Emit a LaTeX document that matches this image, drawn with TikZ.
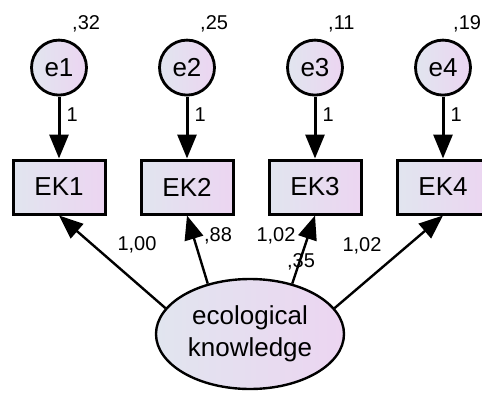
\documentclass[tikz,border=0pt]{standalone}
\usepackage{fontspec}
\setmainfont{Liberation Sans}
\usetikzlibrary{positioning}
\usetikzlibrary{arrows.meta}
\usetikzlibrary{shapes.geometric}
\definecolor{fillLeft}{HTML}{E1E5EF}
\definecolor{fillRight}{HTML}{ECD5F1}

\begin{document}
\begin{tikzpicture}[x=1pt, y=1pt, node distance=33pt,
    observed/.style={draw, line width=3pt, rectangle, minimum width=92pt, minimum height=54pt, left color=fillLeft, right color=fillRight, font=\fontsize{26}{31}\selectfont},
    errorTerm/.style={draw, line width=2.8pt, circle, minimum size=55pt, inner sep=0pt, left color=fillLeft, right color=fillRight, font=\fontsize{26}{31}\selectfont},
    latent/.style={draw, line width=2.4pt, ellipse, minimum width=188pt, minimum height=110pt, inner sep=0pt, align=center, left color=fillLeft, right color=fillRight, font=\fontsize{26}{32}\selectfont},
    estimate/.style={inner sep=1pt, font=\fontsize{20}{24}\selectfont},
    regArrow/.style={line width=3pt, -{Triangle[length=24pt, width=19pt]}},
  ]
    \useasboundingbox (0,0) rectangle (482,392);
    \clip (0,0) rectangle (482,392);

    \node[observed] at (59,205) (EK1) {EK1};
    \node[observed, right=of EK1] (EK2) {EK2};
    \node[observed, right=of EK2] (EK3) {EK3};
    \node[observed, right=of EK3] (EK4) {EK4};

    \node[errorTerm, above=62pt of EK1] (e1) {e1};
    \node[errorTerm, above=62pt of EK2] (e2) {e2};
    \node[errorTerm, above=62pt of EK3] (e3) {e3};
    \node[errorTerm, above=62pt of EK4] (e4) {e4};

    \node[latent] at (250,58) (know) {ecological\\knowledge};

    % variances
    \node[estimate, anchor=west] at ([xshift=12pt, yshift=44pt]e1.center) (var_1) {,32};
    \node[estimate, anchor=west] at ([xshift=12pt, yshift=44pt]e2.center) (var_2) {,25};
    \node[estimate, anchor=west] at ([xshift=12pt, yshift=44pt]e3.center) (var_3) {,11};
    \node[estimate, anchor=west] at ([xshift=9pt, yshift=44pt]e4.center) (var_4) {,19};
    \node[estimate] at (301,130) (var_know) {,35};

    \draw[regArrow] (e1) -- node[estimate, anchor=west, pos=.3, xshift=5pt] {1} (EK1);
    \draw[regArrow] (e2) -- node[estimate, anchor=west, pos=.3, xshift=5pt] {1} (EK2);
    \draw[regArrow] (e3) -- node[estimate, anchor=west, pos=.3, xshift=5pt] {1} (EK3);
    \draw[regArrow] (e4) -- node[estimate, anchor=west, pos=.3, xshift=5pt] {1} (EK4);

    \draw[regArrow, line width=2.4pt] (know.163) -- (EK1.south);
    \draw[regArrow, line width=2.4pt] (know.130) -- (EK2.south);
    \draw[regArrow, line width=2.4pt] (know.50) -- (EK3.south);
    \draw[regArrow, line width=2.4pt] (know.17) -- (EK4.south);

    \node[estimate] at (137,147) (load_1) {1,00};
    \node[estimate] at (218,156) (load_2) {,88};
    \node[estimate] at (276,156) (load_3) {1,02};
    \node[estimate] at (362,146) (load_4) {1,02};
  \end{tikzpicture}
\end{document}
